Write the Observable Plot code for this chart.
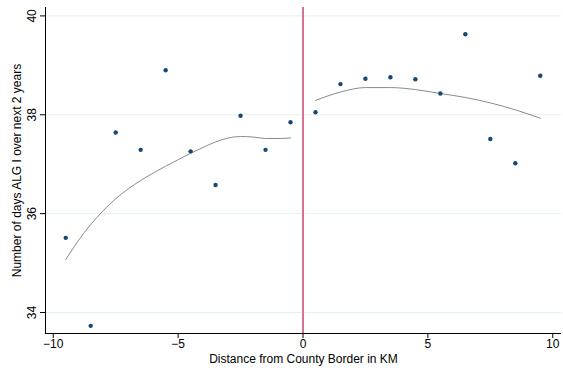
<!DOCTYPE html>
<html>
<head>
<meta charset="utf-8">
<script src="https://cdn.jsdelivr.net/npm/d3@7"></script>
<script src="https://cdn.jsdelivr.net/npm/@observablehq/plot@0.6"></script>
<style>
  html, body { margin: 0; padding: 0; background: #fff; }
  svg { display: block; }
</style>
</head>
<body>
<div id="chart"></div>
<script>
// Binned means
const binX = [-9.5, -8.5, -7.5, -6.5, -5.5, -4.5, -3.5, -2.5, -1.5, -0.5,
              0.5, 1.5, 2.5, 3.5, 4.5, 5.5, 6.5, 7.5, 8.5, 9.5];
const binY = [35.51, 33.73, 37.64, 37.29, 38.90, 37.26, 36.58, 37.98, 37.29, 37.85,
              38.05, 38.62, 38.73, 38.76, 38.72, 38.43, 39.63, 37.51, 37.02, 38.79];

// Smoothed fit, left of border
const fitLeftX = [-9.5, -9, -8.5, -8, -7.5, -7, -6.5, -6, -5.5, -5, -4.5, -4, -3.5, -3, -2.5, -2, -1.5, -1, -0.5];
const fitLeftY = [35.07, 35.45, 35.78, 36.06, 36.30, 36.50, 36.67, 36.82, 36.96, 37.09, 37.22, 37.34, 37.45, 37.53, 37.56, 37.55, 37.52, 37.52, 37.53];

// Smoothed fit, right of border
const fitRightX = [0.5, 1.5, 2.5, 3.5, 4.5, 5.5, 6.5, 7.5, 8.5, 9.5];
const fitRightY = [38.29, 38.46, 38.55, 38.55, 38.51, 38.43, 38.35, 38.24, 38.10, 37.93];

const xTicks = [-10, -5, 0, 5, 10];
const yTicks = [34, 36, 38, 40];
const border = [0];

const xLabel = "Distance from County Border in KM";
const yLabel = "Number of days ALG I over next 2 years";

const points = binX.map((x, i) => ({x, y: binY[i]}));
const left = fitLeftX.map((x, i) => ({x, y: fitLeftY[i]}));
const right = fitRightX.map((x, i) => ({x, y: fitRightY[i]}));

const chart = Plot.plot({
  width: 563,
  height: 370,
  marginLeft: 45,
  marginRight: 2,
  marginTop: 7,
  marginBottom: 37,
  style: {fontFamily: "'Liberation Sans', Arial, sans-serif", fontSize: "12px", color: "#000", background: "#fff"},
  x: {domain: [-10.31, 10.35]},
  y: {domain: [33.575, 40.17]},
  marks: [
    Plot.gridY(yTicks, {stroke: "#e6efef", strokeOpacity: 1, strokeWidth: 1}),
    Plot.ruleX(border, {stroke: "#d8708f", strokeWidth: 2}),
    Plot.line(left, {x: "x", y: "y", stroke: "#8a8a8a", strokeWidth: 1, curve: "monotone-x"}),
    Plot.line(right, {x: "x", y: "y", stroke: "#8a8a8a", strokeWidth: 1, curve: "monotone-x"}),
    Plot.dot(points, {x: "x", y: "y", r: 2.2, fill: "#1a476f", stroke: "none"}),
    Plot.axisX(xTicks, {tickSize: 5, tickPadding: 1, fontSize: 12, label: null,
      tickFormat: d => d < 0 ? "\u2212" + Math.abs(d) : String(d)}),
    Plot.axisY(yTicks, {tickSize: 5, label: null, tickFormat: () => ""}),
    Plot.text(yTicks, {y: d => d, frameAnchor: "left", dx: -13, rotate: -90, textAnchor: "middle", lineAnchor: "middle", text: d => String(d), fontSize: 12, fill: "#000"}),
    Plot.text([yLabel], {frameAnchor: "left", dx: -28, rotate: -90, textAnchor: "middle", lineAnchor: "middle", text: d => d, fontSize: 12, fill: "#000"}),
    Plot.text([xLabel], {frameAnchor: "bottom", dy: 26, lineAnchor: "middle", text: d => d, fontSize: 12, fill: "#000"}),
    Plot.ruleX([-10.31], {stroke: "#000", strokeWidth: 1}),
    Plot.ruleY([33.575], {stroke: "#000", strokeWidth: 1})
  ]
});
document.getElementById("chart").appendChild(chart);
</script>
</body>
</html>
